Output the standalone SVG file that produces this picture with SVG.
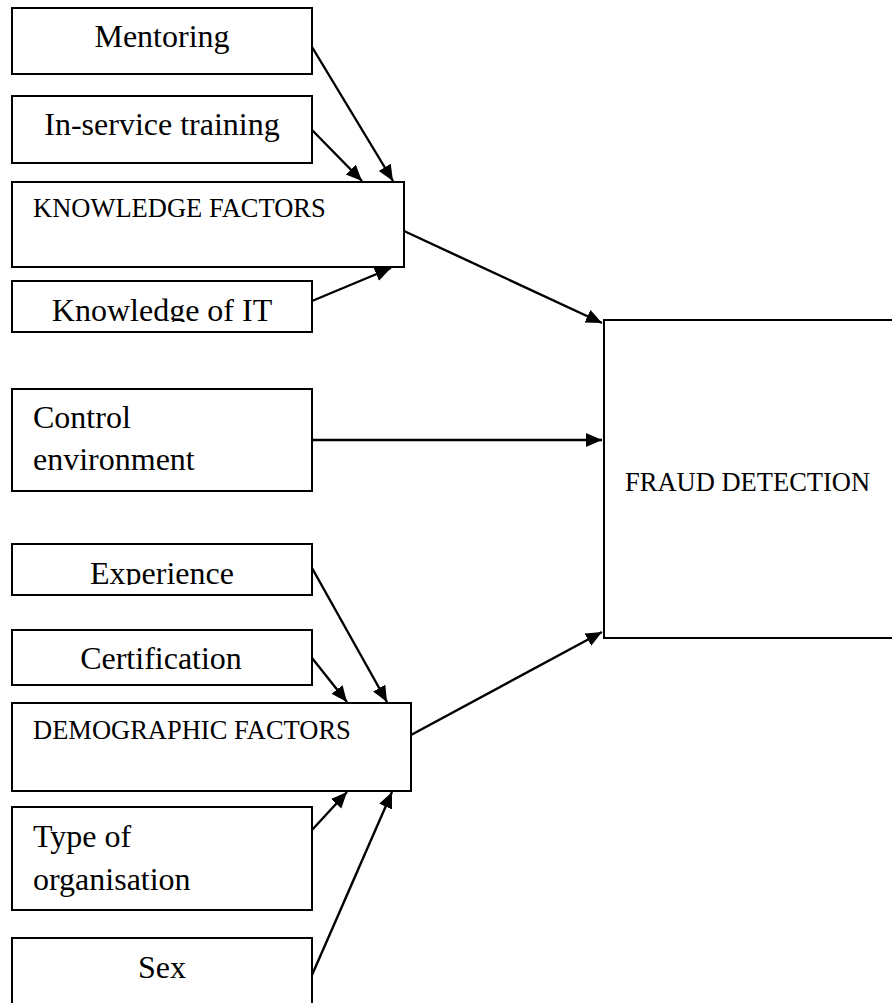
<svg xmlns="http://www.w3.org/2000/svg" width="892" height="1003" viewBox="0 0 892 1003">
<style>
.box{fill:#fff;stroke:#000;stroke-width:2}
.t{font-family:"Liberation Serif","Times New Roman",serif;font-size:32px;fill:#000}
.s{font-family:"Liberation Serif","Times New Roman",serif;font-size:26.5px;fill:#000}
.c{text-anchor:middle}
.ln{stroke:#000;stroke-width:2.4;fill:none;marker-end:url(#ah)}
</style>
<defs>
<marker id="ah" markerUnits="userSpaceOnUse" markerWidth="17" markerHeight="15" refX="16" refY="7" orient="auto">
<path d="M0,0 L16,7 L0,14 z" fill="#000"/>
</marker>
<clipPath id="clipKIT"><rect x="12" y="281" width="300" height="41"/></clipPath>
<clipPath id="clipExp"><rect x="12" y="544" width="300" height="41"/></clipPath>
</defs>
<rect width="892" height="1003" fill="#fff"/>
<g id="connectors">
<line class="ln" x1="312" y1="47" x2="393" y2="181"/>
<line class="ln" x1="312" y1="130" x2="362" y2="181"/>
<line class="ln" x1="312" y1="301" x2="391" y2="268"/>
<line class="ln" x1="404" y1="231" x2="602" y2="323"/>
<line class="ln" x1="312" y1="440" x2="602" y2="440"/>
<line class="ln" x1="411" y1="735" x2="602" y2="632"/>
<line class="ln" x1="312" y1="568" x2="387" y2="702"/>
<line class="ln" x1="312" y1="658" x2="347" y2="702"/>
<line class="ln" x1="312" y1="830" x2="347" y2="792"/>
<line class="ln" x1="312" y1="975" x2="392" y2="792"/>
</g>
<g id="mentoring"><rect class="box" x="12" y="8" width="300" height="66"/><text class="t c" x="162" y="47">Mentoring</text></g>
<g id="inservice"><rect class="box" x="12" y="96" width="300" height="67"/><text class="t c" x="162" y="135">In-service training</text></g>
<g id="knowledge-factors"><rect class="box" x="12" y="182" width="392" height="85"/><text class="s" x="33" y="217">KNOWLEDGE FACTORS</text></g>
<g id="knowledge-it"><rect class="box" x="12" y="281" width="300" height="51"/><text class="t c" x="162" y="321" clip-path="url(#clipKIT)">Knowledge of IT</text></g>
<g id="control-env"><rect class="box" x="12" y="389" width="300" height="102"/><text class="t" x="33" y="428">Control</text><text class="t" x="33" y="470">environment</text></g>
<g id="experience"><rect class="box" x="12" y="544" width="300" height="51"/><text class="t c" x="162" y="584" clip-path="url(#clipExp)">Experience</text></g>
<g id="certification"><rect class="box" x="12" y="630" width="300" height="55"/><text class="t c" x="161" y="669">Certification</text></g>
<g id="demographic-factors"><rect class="box" x="12" y="703" width="399" height="88"/><text class="s" x="33" y="739">DEMOGRAPHIC FACTORS</text></g>
<g id="type-org"><rect class="box" x="12" y="807" width="300" height="103"/><text class="t" x="33" y="847">Type of</text><text class="t" x="33" y="890">organisation</text></g>
<g id="sex"><rect class="box" x="12" y="938" width="300" height="80"/><text class="t c" x="162" y="978">Sex</text></g>
<g id="fraud-detection"><rect class="box" x="604" y="320" width="300" height="318"/><text class="s" x="625" y="491">FRAUD DETECTION</text></g>
</svg>
